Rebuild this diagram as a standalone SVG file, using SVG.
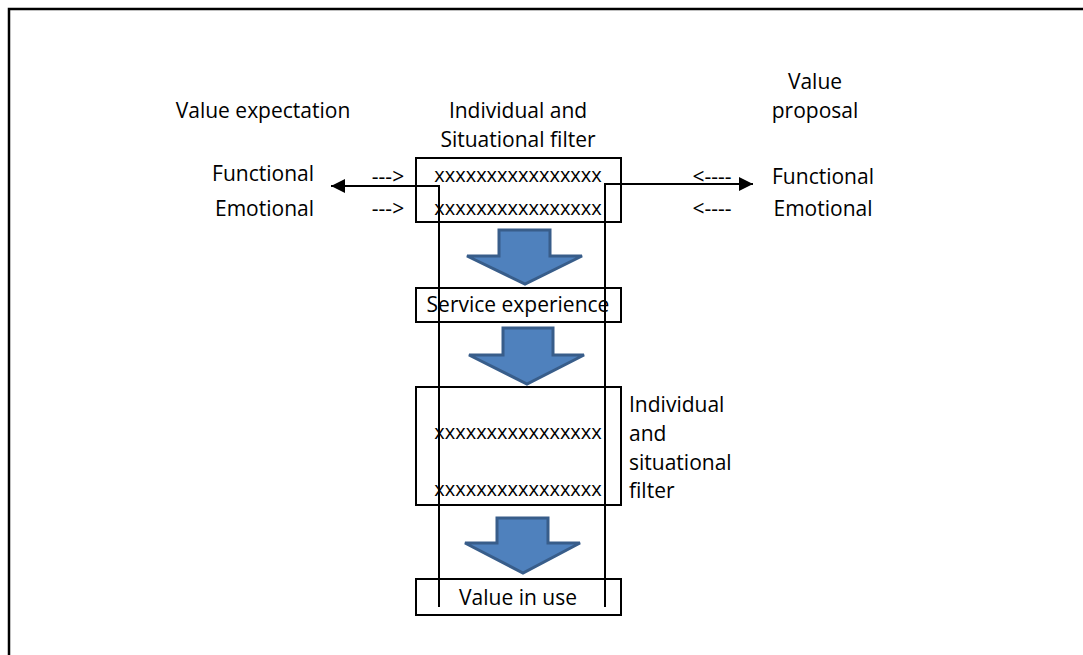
<svg xmlns="http://www.w3.org/2000/svg" width="1083" height="655" viewBox="0 0 1083 655">
<defs>
<style>
text{font-family:"Open Sans",Lato,"Liberation Sans",sans-serif;font-size:21px;fill:#000}
.xx{font-size:20px}
.box{fill:#fff;stroke:#000;stroke-width:2}
.conn{fill:none;stroke:#000;stroke-width:2}
.blk{fill:#4f81bd;stroke:#385d8a;stroke-width:3;stroke-linejoin:miter}
.m{text-anchor:middle}
.e{text-anchor:end}
</style>
<marker id="ah" viewBox="0 0 10 10" refX="10" refY="5" markerWidth="9" markerHeight="7" orient="auto" markerUnits="strokeWidth">
<path d="M0,0 L10,5 L0,10 z" fill="#000"/>
</marker>
</defs>
<rect width="1083" height="655" fill="#fff"/>
<path d="M9,655 V9 H1083" fill="none" stroke="#000" stroke-width="2.5"/>

<g id="labels">
<text x="263" y="118" class="m">Value expectation</text>
<text x="518" y="118" class="m">Individual and</text>
<text x="518" y="147" class="m">Situational filter</text>
<text x="815" y="89" class="m">Value</text>
<text x="815" y="118" class="m">proposal</text>
<text x="314" y="181" class="e">Functional</text>
<text x="314" y="216" class="e">Emotional</text>
<text x="388" y="184" class="m">---&gt;</text>
<text x="388" y="216" class="m">---&gt;</text>
<text x="712" y="184" class="m">&lt;----</text>
<text x="712" y="216" class="m">&lt;----</text>
<text x="823" y="184" class="m">Functional</text>
<text x="823" y="216" class="m">Emotional</text>
</g>

<g id="filter1">
<rect class="box" x="416" y="158" width="205" height="64"/>
<text x="518" y="182" class="m xx">xxxxxxxxxxxxxxxx</text>
<text x="518" y="215" class="m xx">xxxxxxxxxxxxxxxx</text>
</g>

<g id="arrow1"><path class="blk" d="M499,230 H550 V256 H582 L525,284 L467,256 H499 Z"/></g>

<g id="service">
<rect class="box" x="416" y="288" width="205" height="34"/>
<text x="518" y="312" class="m">Service experience</text>
</g>

<g id="arrow2"><path class="blk" d="M503,328 H553 V355 H584 L527,384 L469,355 H503 Z"/></g>

<g id="filter2">
<rect class="box" x="416" y="387" width="205" height="118"/>
<text x="518" y="439" class="m xx">xxxxxxxxxxxxxxxx</text>
<text x="518" y="496" class="m xx">xxxxxxxxxxxxxxxx</text>
<text x="629" y="412">Individual</text>
<text x="629" y="441">and</text>
<text x="629" y="470">situational</text>
<text x="629" y="498">filter</text>
</g>

<g id="arrow3"><path class="blk" d="M497,518 H548 V543 H580 L523,573 L465,543 H497 Z"/></g>

<g id="valueinuse">
<rect class="box" x="416" y="579" width="205" height="36"/>
<text x="518" y="605" class="m">Value in use</text>
</g>

<g id="connectors">
<path class="conn" d="M439,607 V186 H331" marker-end="url(#ah)"/>
<path class="conn" d="M605,607 V184 H753" marker-end="url(#ah)"/>
</g>
</svg>
